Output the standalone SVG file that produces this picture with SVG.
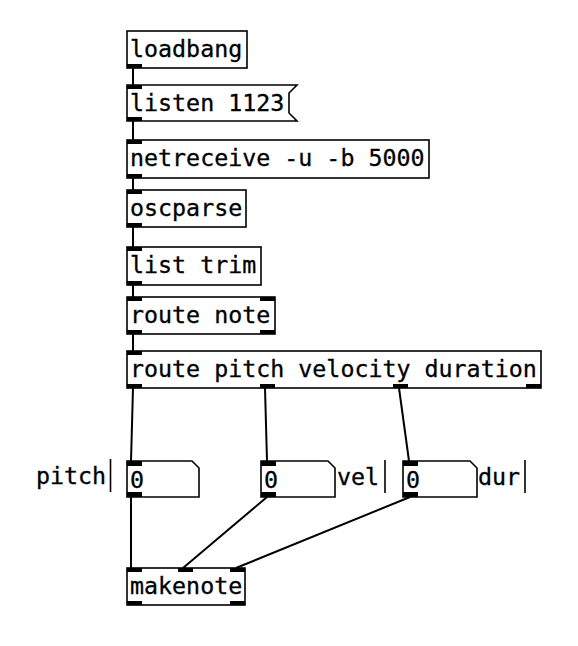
<svg xmlns="http://www.w3.org/2000/svg" width="578" height="646" viewBox="0 0 578 646">
<style>
.box{fill:#fff;stroke:#000;stroke-width:1.6}
.io{fill:#000}
text{font-family:"DejaVu Sans Mono","Liberation Mono",monospace;font-size:23.3px;fill:#000;stroke:#000;stroke-width:0.3}
.wire{stroke:#000;stroke-width:2;fill:none}
.bar{stroke:#000;stroke-width:1.6}
</style>
<rect width="578" height="646" fill="#fff"/>
<g id="connectors">
<line class="wire" x1="133" y1="68" x2="133" y2="85"/>
<line class="wire" x1="133" y1="121" x2="133" y2="140"/>
<line class="wire" x1="133" y1="178" x2="133" y2="190"/>
<line class="wire" x1="133" y1="227" x2="133" y2="247"/>
<line class="wire" x1="133" y1="285" x2="133" y2="297"/>
<line class="wire" x1="133" y1="334" x2="133" y2="351"/>
<line class="wire" x1="133" y1="388" x2="131" y2="461"/>
<line class="wire" x1="265" y1="388" x2="267" y2="461"/>
<line class="wire" x1="399" y1="388" x2="409" y2="461"/>
<line class="wire" x1="131" y1="497" x2="131" y2="568"/>
<line class="wire" x1="267" y1="497" x2="183" y2="568"/>
<line class="wire" x1="410" y1="497" x2="236" y2="568"/>
</g>
<g id="loadbang">
<rect class="box" x="127" y="31" width="120" height="37"/>
<rect class="io" x="127" y="64" width="15" height="4"/>
<text x="130" y="57">loadbang</text>
</g>
<g id="listen">
<polygon class="box" points="127,85 297,85 289,93 289,113 297,121 127,121"/>
<rect class="io" x="127" y="85" width="15" height="4"/>
<rect class="io" x="127" y="117" width="15" height="4"/>
<text x="130" y="111">listen 1123</text>
</g>
<g id="netreceive">
<rect class="box" x="127" y="140" width="302" height="38"/>
<rect class="io" x="127" y="140" width="15" height="4"/>
<rect class="io" x="127" y="174" width="15" height="4"/>
<text x="130" y="166">netreceive -u -b 5000</text>
</g>
<g id="oscparse">
<rect class="box" x="127" y="190" width="119" height="37"/>
<rect class="io" x="127" y="190" width="15" height="4"/>
<rect class="io" x="127" y="223" width="15" height="4"/>
<text x="130" y="216">oscparse</text>
</g>
<g id="listtrim">
<rect class="box" x="127" y="247" width="134" height="38"/>
<rect class="io" x="127" y="247" width="15" height="4"/>
<rect class="io" x="127" y="281" width="15" height="4"/>
<text x="130" y="273">list trim</text>
</g>
<g id="routenote">
<rect class="box" x="127" y="297" width="148" height="37"/>
<rect class="io" x="127" y="297" width="15" height="4"/>
<rect class="io" x="260" y="297" width="15" height="4"/>
<rect class="io" x="127" y="330" width="15" height="4"/>
<rect class="io" x="260" y="330" width="15" height="4"/>
<text x="130" y="323">route note</text>
</g>
<g id="routepitch">
<rect class="box" x="127" y="351" width="414" height="37"/>
<rect class="io" x="127" y="351" width="15" height="4"/>
<rect class="io" x="127" y="384" width="15" height="4"/>
<rect class="io" x="260" y="384" width="15" height="4"/>
<rect class="io" x="393" y="384" width="15" height="4"/>
<rect class="io" x="526" y="384" width="15" height="4"/>
<text x="130" y="377">route pitch velocity duration</text>
</g>
<g id="num-pitch">
<polygon class="box" points="127,461 192,461 199,468 199,497 127,497"/>
<rect class="io" x="127" y="461" width="15" height="5"/>
<rect class="io" x="127" y="492" width="15" height="5"/>
<text x="130" y="488">0</text>
<text x="36" y="484">pitch</text>
<line class="bar" x1="110.5" y1="459" x2="110.5" y2="492"/>
</g>
<g id="num-vel">
<polygon class="box" points="261,461 328,461 335,468 335,497 261,497"/>
<rect class="io" x="261" y="461" width="15" height="5"/>
<rect class="io" x="261" y="492" width="15" height="5"/>
<text x="264" y="488">0</text>
<text x="337" y="485">vel</text>
<line class="bar" x1="385" y1="460" x2="385" y2="493"/>
</g>
<g id="num-dur">
<polygon class="box" points="403,461 470,461 477,468 477,497 403,497"/>
<rect class="io" x="403" y="461" width="15" height="5"/>
<rect class="io" x="403" y="492" width="15" height="5"/>
<text x="406" y="488">0</text>
<text x="478" y="485">dur</text>
<line class="bar" x1="525" y1="460" x2="525" y2="493"/>
</g>
<g id="makenote">
<rect class="box" x="127" y="568" width="118" height="37"/>
<rect class="io" x="127" y="568" width="15" height="4"/>
<rect class="io" x="178" y="568" width="15" height="4"/>
<rect class="io" x="230" y="568" width="15" height="4"/>
<rect class="io" x="127" y="601" width="15" height="4"/>
<rect class="io" x="230" y="601" width="15" height="4"/>
<text x="130" y="594">makenote</text>
</g>
</svg>
